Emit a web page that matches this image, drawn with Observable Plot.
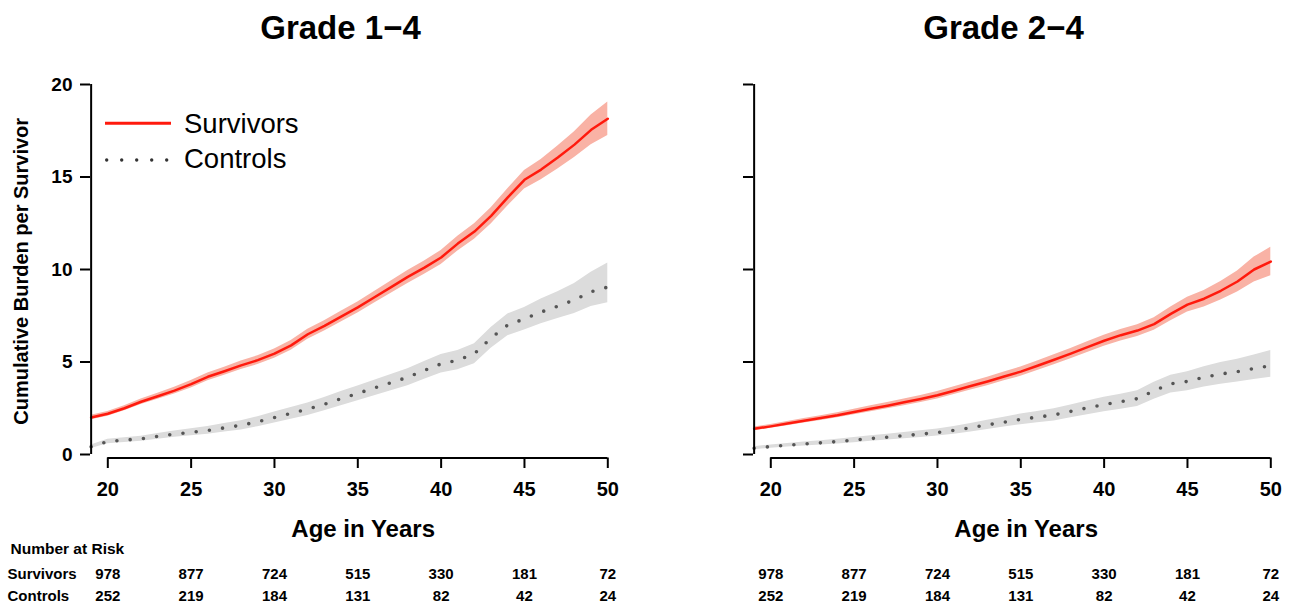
<!DOCTYPE html>
<html>
<head>
<meta charset="utf-8">
<script src="https://cdn.jsdelivr.net/npm/d3@7"></script>
<script src="https://cdn.jsdelivr.net/npm/@observablehq/plot@0.6"></script>
<style>
  body { margin: 0; background: #fff; font-family: "Liberation Sans", Arial, Helvetica, sans-serif; }
  #chart { position: relative; width: 1298px; height: 608px; overflow: hidden; background: #fff; }
  .title { position: absolute; top: 11px; width: 681px; height: 33px; line-height: 33px; font-size: 33px; font-weight: bold; text-align: center; color: #000; white-space: nowrap; }
  .plot { position: absolute; top: 56px; width: 635px; height: 552px; }
  .legend { position: absolute; left: 100px; top: 100px; width: 230px; height: 80px; color: #000; }
  .legend svg { position: absolute; left: 0; top: 0; }
  .legend span { position: absolute; left: 84px; font-size: 27.5px; line-height: 27.5px; white-space: nowrap; }
</style>
</head>
<body>
<div id="chart"></div>
<script>
// ---------- data ----------
const ages = [19,20,21,22,23,24,25,26,27,28,29,30,31,32,33,34,35,36,37,38,39,40,41,42,43,44,45,46,47,48,49,50];

// Grade 1-4
const g1Surv   = [2.0,2.2,2.5,2.85,3.15,3.45,3.8,4.2,4.5,4.82,5.1,5.45,5.9,6.5,6.95,7.45,7.95,8.5,9.05,9.6,10.1,10.65,11.4,12.05,12.9,13.9,14.85,15.4,16.05,16.75,17.55,18.15];
const g1SurvLo = [1.88,2.07,2.36,2.70,2.99,3.27,3.60,3.99,4.28,4.59,4.86,5.20,5.64,6.23,6.67,7.16,7.65,8.19,8.72,9.25,9.74,10.27,11.0,11.63,12.46,13.43,14.35,14.85,15.43,16.05,16.75,17.25];
const g1SurvHi = [2.12,2.33,2.64,3.00,3.31,3.63,4.00,4.41,4.72,5.05,5.34,5.70,6.16,6.77,7.23,7.74,8.25,8.81,9.38,9.95,10.46,11.03,11.8,12.47,13.34,14.37,15.35,15.95,16.67,17.45,18.35,19.05];
const g1Ctrl   = [0.42,0.7,0.78,0.85,0.98,1.1,1.2,1.3,1.44,1.58,1.77,2.0,2.22,2.45,2.72,3.02,3.3,3.6,3.88,4.18,4.55,4.9,5.1,5.45,6.3,7.0,7.33,7.7,8.02,8.35,8.8,9.05];
const g1CtrlLo = [0.32,0.58,0.65,0.71,0.83,0.93,1.01,1.09,1.21,1.33,1.50,1.70,1.90,2.11,2.36,2.64,2.90,3.18,3.44,3.72,4.07,4.40,4.58,4.91,5.74,6.42,6.73,7.07,7.35,7.62,8.0,8.2];
const g1CtrlHi = [0.52,0.82,0.91,0.99,1.13,1.27,1.39,1.51,1.67,1.83,2.04,2.30,2.54,2.79,3.08,3.40,3.70,4.02,4.32,4.64,5.03,5.40,5.62,5.99,6.86,7.6,7.95,8.4,8.8,9.25,9.85,10.35];

// Grade 2-4
const g2Surv   = [1.39,1.52,1.67,1.82,1.97,2.12,2.3,2.47,2.64,2.82,3.0,3.2,3.45,3.7,3.95,4.22,4.48,4.8,5.12,5.45,5.8,6.15,6.45,6.7,7.05,7.6,8.1,8.42,8.85,9.35,10.0,10.43];
const g2SurvLo = [1.29,1.42,1.56,1.70,1.84,1.98,2.15,2.31,2.47,2.64,2.81,3.00,3.24,3.48,3.72,3.98,4.23,4.54,4.85,5.17,5.51,5.85,6.14,6.38,6.71,7.23,7.70,7.97,8.35,8.78,9.33,9.66];
const g2SurvHi = [1.49,1.62,1.78,1.94,2.10,2.26,2.45,2.63,2.81,3.00,3.19,3.40,3.66,3.92,4.18,4.46,4.73,5.06,5.39,5.73,6.09,6.45,6.76,7.02,7.39,7.97,8.50,8.87,9.35,9.92,10.67,11.20];
const g2Ctrl   = [0.34,0.43,0.5,0.57,0.63,0.7,0.78,0.86,0.94,1.02,1.1,1.19,1.31,1.45,1.6,1.75,1.9,2.02,2.14,2.33,2.52,2.7,2.85,3.02,3.45,3.82,3.95,4.18,4.35,4.48,4.65,4.8];
const g2CtrlLo = [0.26,0.34,0.40,0.46,0.51,0.57,0.64,0.71,0.78,0.85,0.92,1.00,1.10,1.22,1.35,1.48,1.61,1.71,1.81,1.98,2.15,2.31,2.44,2.59,2.98,3.33,3.45,3.65,3.80,3.92,4.05,4.18];
const g2CtrlHi = [0.42,0.52,0.60,0.68,0.75,0.83,0.92,1.01,1.10,1.19,1.28,1.38,1.52,1.68,1.85,2.02,2.19,2.33,2.47,2.68,2.89,3.09,3.26,3.45,3.90,4.29,4.47,4.75,4.97,5.15,5.38,5.62];

// axes and labels
const xTicks = [20,25,30,35,40,45,50];
const yTicks = [0,5,10,15,20];
const riskSurvivors = [978,877,724,515,330,181,72];
const riskControls  = [252,219,184,131,82,42,24];
const panelTitles = ["Grade 1\u22124", "Grade 2\u22124"];
const xLabel = "Age in Years";
const yLabel = "Cumulative Burden per Survivor";
const riskTitle = "Number at Risk";
const seriesNames = ["Survivors", "Controls"];

// ---------- drawing ----------
const W = 635, H = 552;
const FONT = "'Liberation Sans', Arial, Helvetica, sans-serif";

function rows(v, lo, hi) {
  return ages.map((a, i) => ({age: a, v: v[i], lo: lo[i], hi: hi[i]}));
}

function panel({surv, ctrl, showLabels}) {
  const risk = xTicks.map((a, i) => ({age: a, s: riskSurvivors[i], c: riskControls[i]}));
  const marks = [
    Plot.areaY(ctrl, {x: "age", y1: "lo", y2: "hi", fill: "#dcdcdc"}),
    Plot.areaY(surv, {x: "age", y1: "lo", y2: "hi", fill: "#f9b2a5"}),
    Plot.line(ctrl, {x: "age", y: "v", stroke: "#555", strokeWidth: 3.6, strokeDasharray: "0 13.3", strokeLinecap: "round"}),
    Plot.line(surv, {x: "age", y: "v", stroke: "#ff1a0d", strokeWidth: 2.5}),
    // y axis line
    Plot.ruleX([ages[0]], {y1: yTicks[0], y2: yTicks[yTicks.length - 1], stroke: "#000", strokeWidth: 2}),
    Plot.axisY({ticks: yTicks, label: null, tickSize: 10, tickPadding: 8, fontSize: 19, strokeWidth: 2,
                tickFormat: showLabels ? (d => String(d)) : (() => "")}),
    // x axis line
    Plot.ruleY([yTicks[0]], {x1: xTicks[0], x2: xTicks[xTicks.length - 1], dy: 3.5, stroke: "#000", strokeWidth: 2}),
    Plot.axisX({ticks: xTicks, label: null, tickSize: 10.5, tickPadding: 13.7, fontSize: 20, strokeWidth: 2, tickFormat: d => String(d)}),
    Plot.text([xLabel], {frameAnchor: "bottom", dx: 14, dy: 71.8, fontSize: 24, textAnchor: "middle", lineAnchor: "middle"}),
    Plot.text(risk, {x: "age", text: "s", frameAnchor: "bottom", dy: 116, fontSize: 15, textAnchor: "middle", lineAnchor: "middle"}),
    Plot.text(risk, {x: "age", text: "c", frameAnchor: "bottom", dy: 137.7, fontSize: 15, textAnchor: "middle", lineAnchor: "middle"})
  ];
  if (showLabels) {
    marks.push(
      Plot.text([yLabel], {frameAnchor: "left", dx: -69, rotate: -90, fontSize: 20, textAnchor: "middle", lineAnchor: "middle"}),
      Plot.text([riskTitle], {frameAnchor: "bottom-left", dx: -80, dy: 90.8, fontSize: 15.5, textAnchor: "start", lineAnchor: "middle"}),
      Plot.text([seriesNames[0]], {frameAnchor: "bottom-left", dx: -83, dy: 116, fontSize: 15, textAnchor: "start", lineAnchor: "middle"}),
      Plot.text([seriesNames[1]], {frameAnchor: "bottom-left", dx: -83, dy: 137.7, fontSize: 15, textAnchor: "start", lineAnchor: "middle"})
    );
  }
  return Plot.plot({
    width: W,
    height: H,
    marginTop: 28,
    marginBottom: H - 401.5,
    marginLeft: 90,
    marginRight: W - 607.3,
    x: {domain: [xTicks[0], xTicks[xTicks.length - 1]], range: [107.3, 607.3], label: null},
    y: {domain: [yTicks[0], yTicks[yTicks.length - 1]], range: [398, 28], label: null},
    style: {fontFamily: FONT, fontWeight: "bold", color: "#000", background: "#fff", overflow: "visible"},
    marks
  });
}

const chart = document.getElementById("chart");
const panels = [
  {left: 0,   surv: rows(g1Surv, g1SurvLo, g1SurvHi), ctrl: rows(g1Ctrl, g1CtrlLo, g1CtrlHi), showLabels: true},
  {left: 663, surv: rows(g2Surv, g2SurvLo, g2SurvHi), ctrl: rows(g2Ctrl, g2CtrlLo, g2CtrlHi), showLabels: false}
];

panels.forEach((p, i) => {
  const t = document.createElement("div");
  t.className = "title";
  t.style.left = p.left + "px";
  t.textContent = panelTitles[i];
  chart.appendChild(t);

  const d = document.createElement("div");
  d.className = "plot";
  d.style.left = p.left + "px";
  d.appendChild(panel(p));
  chart.appendChild(d);
});

// legend (left panel)
const lg = document.createElement("div");
lg.className = "legend";
const ns = "http://www.w3.org/2000/svg";
const sw = document.createElementNS(ns, "svg");
sw.setAttribute("width", 80); sw.setAttribute("height", 80);
const ln = document.createElementNS(ns, "line");
ln.setAttribute("x1", 5); ln.setAttribute("x2", 71); ln.setAttribute("y1", 23.3); ln.setAttribute("y2", 23.3);
ln.setAttribute("stroke", "#ff1a0d"); ln.setAttribute("stroke-width", 3);
sw.appendChild(ln);
const dl = document.createElementNS(ns, "line");
dl.setAttribute("x1", 6.7); dl.setAttribute("x2", 67); dl.setAttribute("y1", 60); dl.setAttribute("y2", 60);
dl.setAttribute("stroke", "#333"); dl.setAttribute("stroke-width", 3.4);
dl.setAttribute("stroke-linecap", "round"); dl.setAttribute("stroke-dasharray", "0 15");
sw.appendChild(dl);
lg.appendChild(sw);
seriesNames.forEach((n, i) => {
  const s = document.createElement("span");
  s.textContent = n;
  s.style.top = (10 + i * 35) + "px";
  lg.appendChild(s);
});
chart.appendChild(lg);
</script>
</body>
</html>
